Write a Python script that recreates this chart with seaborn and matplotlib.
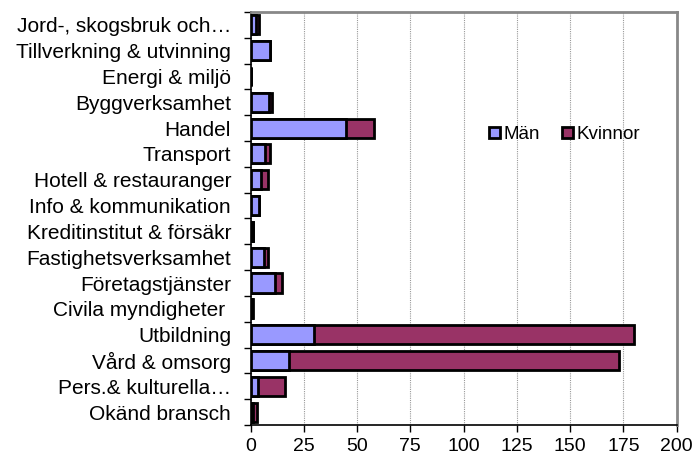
import matplotlib.pyplot as plt
import pandas as pd
import seaborn as sns
from matplotlib.ticker import FixedLocator, MultipleLocator

# Data
branscher = [
    "Jord-, skogsbruk och…",
    "Tillverkning & utvinning",
    "Energi & miljö",
    "Byggverksamhet",
    "Handel",
    "Transport",
    "Hotell & restauranger",
    "Info & kommunikation",
    "Kreditinstitut & försäkr",
    "Fastighetsverksamhet",
    "Företagstjänster",
    "Civila myndigheter ",
    "Utbildning",
    "Vård & omsorg",
    "Pers.& kulturella…",
    "Okänd bransch",
]
man = [2.5, 9, 0, 8.5, 45, 7, 5, 4, 1, 6.5, 11.5, 0.5, 30, 18, 3.5, 1]
kvinnor = [1.5, 0, 0, 1.5, 13, 2, 3, 0, 0.3, 1.5, 3.5, 0.5, 150, 155, 12.5, 2]

df = pd.DataFrame({"bransch": branscher, "Män": man, "Kvinnor": kvinnor})
df["total"] = df["Män"] + df["Kvinnor"]

sns.set_style("white")
plt.rcParams["font.family"] = ["Liberation Sans", "DejaVu Sans"]
plt.rcParams["text.color"] = "black"
plt.rcParams["xtick.color"] = "black"
plt.rcParams["ytick.color"] = "black"

fig, ax = plt.subplots(figsize=(6.94, 4.59), dpi=100)
fig.subplots_adjust(left=0.361, right=0.975, top=0.974, bottom=0.074)

# stacked bars: total in Kvinnor colour, Män drawn on top
sns.barplot(data=df, y="bransch", x="total", color="#993366", saturation=1,
            width=0.74, edgecolor="black", linewidth=2, label="Kvinnor", ax=ax)
sns.barplot(data=df, y="bransch", x="Män", color="#9999FF", saturation=1,
            width=0.74, edgecolor="black", linewidth=2, label="Män", ax=ax)

ax.set_xlim(0, 200)
ax.set_ylim(len(branscher) - 0.5, -0.5)
ax.xaxis.set_major_locator(MultipleLocator(25))
ax.set_xlabel("")
ax.set_ylabel("")

# ticks on the category boundaries
ax.yaxis.set_minor_locator(FixedLocator([i - 0.5 for i in range(len(branscher) + 1)]))
ax.tick_params(axis="y", which="major", length=0, labelsize=15, pad=14)
ax.tick_params(axis="y", which="minor", length=5, width=1, color="black", left=True)
ax.tick_params(axis="x", which="major", length=5, width=1, color="black", bottom=True,
               labelsize=14, pad=4)

ax.grid(axis="x", color="#999999", linestyle=(0, (1, 1)), linewidth=0.8)
ax.set_axisbelow(True)

for side in ["left", "bottom"]:
    ax.spines[side].set_color("black")
    ax.spines[side].set_linewidth(1.2)
for side in ["top", "right"]:
    ax.spines[side].set_visible(True)
    ax.spines[side].set_color("#888888")
    ax.spines[side].set_linewidth(2)

handles, labels = ax.get_legend_handles_labels()
order = [labels.index("Män"), labels.index("Kvinnor")]
ax.legend([handles[i] for i in order], [labels[i] for i in order],
          loc="center", bbox_to_anchor=(0.737, 0.703), ncol=2, frameon=False,
          fontsize=13.5, handlelength=0.55, handleheight=0.55, handletextpad=0.2,
          columnspacing=1.2)

fig.savefig("out.png", dpi=100)
